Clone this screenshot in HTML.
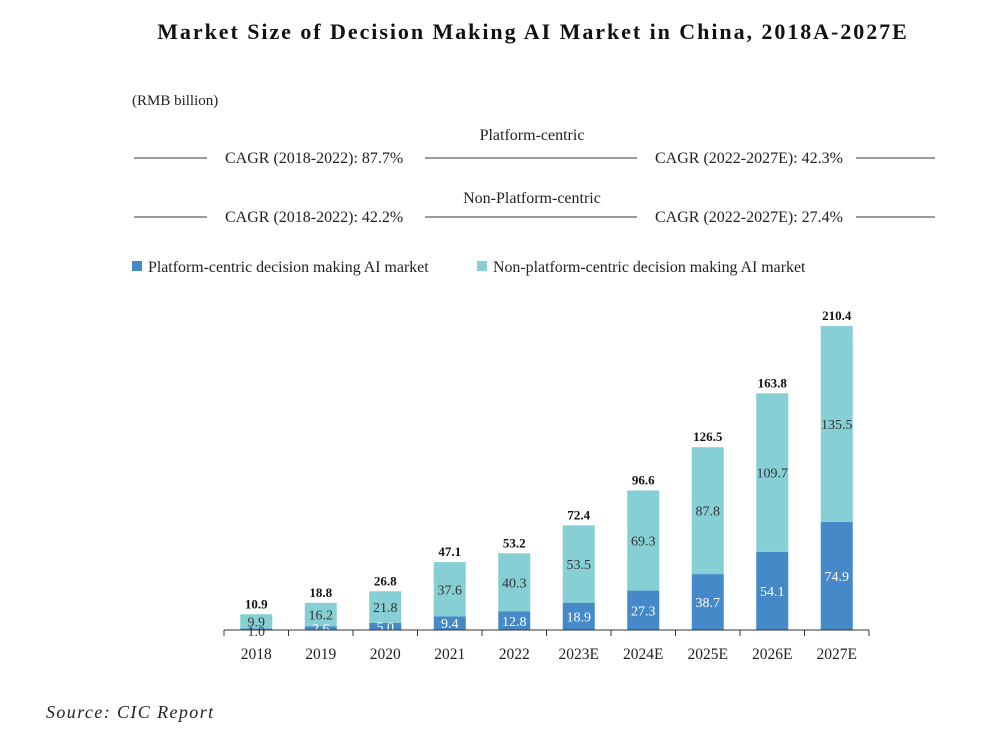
<!DOCTYPE html>
<html><head><meta charset="utf-8">
<style>
body{margin:0;background:#fff;}
svg{display:block;font-family:"Liberation Serif",serif;}
</style></head>
<body>
<svg width="1007" height="735" viewBox="0 0 1007 735">
<text x="533" y="39" text-anchor="middle" font-size="22" font-weight="bold" letter-spacing="1.95" fill="#111">Market Size of Decision Making AI Market in China, 2018A-2027E</text>
<text x="132" y="105" font-size="15" fill="#222">(RMB billion)</text>
<g font-size="16" fill="#222">
<text x="532" y="140" text-anchor="middle">Platform-centric</text>
<line x1="134" y1="158" x2="207" y2="158" stroke="#333"/>
<text x="225" y="163">CAGR (2018-2022): 87.7%</text>
<line x1="425" y1="158" x2="637" y2="158" stroke="#333"/>
<text x="655" y="163">CAGR (2022-2027E): 42.3%</text>
<line x1="856" y1="158" x2="935" y2="158" stroke="#333"/>
</g>
<g font-size="16" fill="#222">
<text x="532" y="203" text-anchor="middle">Non-Platform-centric</text>
<line x1="134" y1="217" x2="207" y2="217" stroke="#333"/>
<text x="225" y="222">CAGR (2018-2022): 42.2%</text>
<line x1="425" y1="217" x2="637" y2="217" stroke="#333"/>
<text x="655" y="222">CAGR (2022-2027E): 27.4%</text>
<line x1="856" y1="217" x2="935" y2="217" stroke="#333"/>
</g>
<g font-size="15.9" fill="#222">
<rect x="132" y="261" width="10" height="10" fill="#4589c9"/>
<text x="148" y="272">Platform-centric decision making AI market</text>
<rect x="477" y="261" width="10" height="10" fill="#86cfd4"/>
<text x="493" y="272">Non-platform-centric decision making AI market</text>
</g>
<g id="plot"></g>
<text x="46" y="718" font-size="18" font-style="italic" letter-spacing="1.4" fill="#222">Source: CIC Report</text>
</svg>
<script>
const categories=["2018","2019","2020","2021","2022","2023E","2024E","2025E","2026E","2027E"];
const platform=[1.0,2.6,5.0,9.4,12.8,18.9,27.3,38.7,54.1,74.9];
const nonPlatform=[9.9,16.2,21.8,37.6,40.3,53.5,69.3,87.8,109.7,135.5];
const totals=["10.9","18.8","26.8","47.1","53.2","72.4","96.6","126.5","163.8","210.4"];
const NS="http://www.w3.org/2000/svg";
const g=document.getElementById('plot');
const x0=224,step=64.5,base=630,k=304/210.4,bw=32;
function xs(i){return x0+step*i+step/2;}
function ys(v){return base-v*k;}
function mk(t,a){const e=document.createElementNS(NS,t);for(const n in a)e.setAttribute(n,a[n]);g.appendChild(e);return e;}
categories.forEach((c,i)=>{
  const cx=xs(i),p=platform[i],n=nonPlatform[i];
  const r1=mk('rect',{x:cx-bw/2,y:ys(p),width:bw,height:base-ys(p),fill:'#4589c9'});
  
  
  const r2=mk('rect',{x:cx-bw/2,y:ys(p+n),width:bw,height:ys(p)-ys(p+n),fill:'#86cfd4'});
  
  
  const small=i===0;
  const t1=mk('text',{x:cx,y:small?base+6:(ys(p)+base)/2+5,'text-anchor':'middle','font-size':14,fill:small?'#333':'#fff'});
  t1.textContent=p.toFixed(1);
  
  
  const t2=mk('text',{x:cx,y:small?ys(p+n)+12:(ys(p)+ys(p+n))/2+5,'text-anchor':'middle','font-size':14,fill:'#333'});
  t2.textContent=n.toFixed(1);
  
  
  const t3=mk('text',{x:cx,y:ys(p+n)-6,'text-anchor':'middle','font-size':13,'font-weight':'bold',fill:'#111'});
  t3.textContent=totals[i];
  
  
  const t4=mk('text',{x:cx,y:659,'text-anchor':'middle','font-size':15.5,fill:'#222'});
  t4.textContent=c;
  
  
});
const ax=mk('line',{x1:x0,y1:base,x2:x0+step*categories.length,y2:base,stroke:'#333'});


for(let i=0;i<=categories.length;i++){
  const tk=mk('line',{x1:x0+step*i,y1:base,x2:x0+step*i,y2:base+6,stroke:'#333'});
  
  
}
</script>
</body></html>
